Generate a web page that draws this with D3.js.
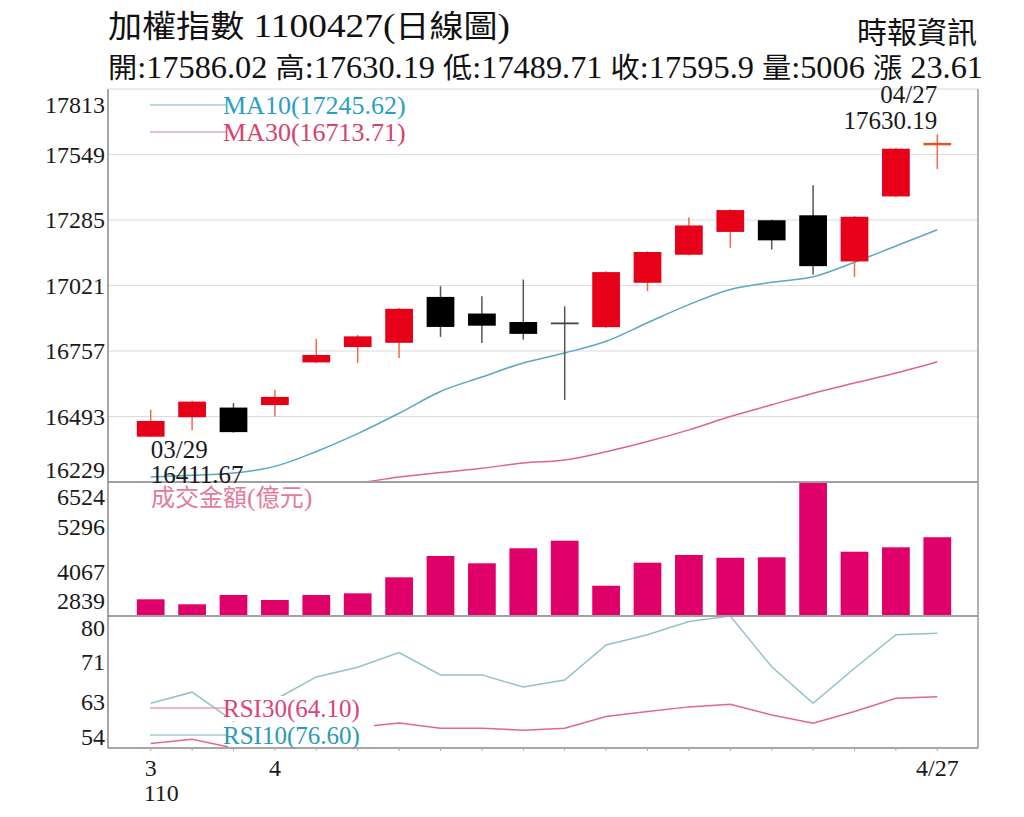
<!DOCTYPE html>
<html>
<head>
<meta charset="utf-8">
<script src="https://cdn.jsdelivr.net/npm/d3@7"></script>
<style>
  body { margin: 0; background: #fff; }
</style>
</head>
<body>
<script>
// trading days 3/29 - 4/27 (民國110年)
var dates = ["3/29", "3/30", "3/31", "4/1", "4/6", "4/7", "4/8", "4/9", "4/12", "4/13",
             "4/14", "4/15", "4/16", "4/19", "4/20", "4/21", "4/22", "4/23", "4/26", "4/27"];
var openP  = [16411.67, 16490, 16529, 16539, 16711, 16773, 16790, 16975, 16908, 16874,
              16872, 16853, 17032, 17145, 17237, 17284, 17304, 17118, 17380, 17586.02];
var highP  = [16520, 16556, 16547, 16601, 16806, 16822, 16930, 17018, 16978, 17045,
              16937, 17078, 17159, 17295, 17328, 17286, 17425, 17301, 17575, 17630.19];
var lowP   = [16411.67, 16439, 16428, 16493, 16709, 16709, 16729, 16814, 16789, 16803,
              16560, 16851, 16998, 17143, 17173, 17166, 17065, 17055, 17377, 17489.71];
var closeP = [16475, 16553, 16430, 16572, 16741, 16816, 16927, 16854, 16859, 16826,
              16868, 17075, 17156, 17263, 17325, 17203, 17099, 17298, 17572.29, 17595.9];
var ma10 = [16249, 16256, 16265, 16292, 16352, 16424, 16506, 16594, 16652, 16709,
            16749, 16796, 16871, 16944, 17005, 17034, 17056, 17115, 17180, 17245.62];
var ma30 = [16120, 16140, 16160, 16180, 16205, 16228, 16249, 16267, 16284, 16306,
            16318, 16351, 16392, 16439, 16493, 16540, 16587, 16628, 16668, 16713.71];
var volume = [3298, 3161, 3417, 3279, 3416, 3463, 3903, 4489, 4288, 4701,
              4910, 3672, 4305, 4517, 4440, 4453, 6524, 4607, 4728, 5006];
var rsi10 = [62.8, 65.0, 59.3, 63.5, 68.0, 69.9, 72.8, 68.4, 68.4, 66.0,
             67.4, 74.3, 76.3, 78.9, 80.0, 70.0, 62.8, 69.7, 76.3, 76.60];
var rsi30 = [54.9, 55.7, 54.0, 55.2, 56.6, 58.1, 58.9, 57.9, 57.9, 57.5,
             57.9, 60.2, 61.2, 62.1, 62.6, 60.5, 58.9, 61.2, 63.8, 64.10];

var priceTicks = [16229, 16493, 16757, 17021, 17285, 17549, 17813];
var volumeTicks = [2839, 4067, 5296, 6524];
var rsiTicks = [54, 63, 71, 80];
var axisDates = ["3/29", "4/1", "4/27"];
var axisLabels = ["3", "4", "4/27"];
var yearLabel = "110";

var titleText = "加權指數 1100427(日線圖)";
var sourceText = "時報資訊";
var quoteText = "開:17586.02 高:17630.19 低:17489.71 收:17595.9 量:5006 漲 23.61";
var volumeTitle = "成交金額(億元)";

var SERIF = '"Liberation Serif", "DejaVu Serif", serif';
var CJK = '"Noto Sans CJK TC", "Noto Sans CJK SC", sans-serif';

var width = 1024, height = 817;
var left = 108, right = 978;
var priceTop = 89, priceBottom = 482, volBottom = 616, rsiBottom = 748;

var svg = d3.select("body").append("svg")
    .attr("width", width)
    .attr("height", height);

// splits a string into CJK / latin runs so digits keep the serif face
function mixedText(sel, str, size, cjkSize) {
    var runs = str.match(/[\u3400-\u9fff\uff00-\uffef]+|[^\u3400-\u9fff\uff00-\uffef]+/g);
    runs.forEach(function(r) {
        var cjk = /[\u3400-\u9fff\uff00-\uffef]/.test(r);
        sel.append("tspan")
            .style("font-family", cjk ? CJK : SERIF)
            .attr("font-size", cjk ? cjkSize : size)
            .text(r);
    });
    return sel;
}

var x = d3.scaleBand().domain(dates).range([130, 958])
    .paddingInner(0.33).paddingOuter(0.165);
var bw = x.bandwidth();
function cx(d) { return x(d) + bw / 2; }

var yPrice = d3.scaleLinear().domain([priceTicks[0], priceTicks[priceTicks.length - 1]])
    .range([priceBottom, priceTop]);
var yPriceClamp = yPrice.copy().clamp(true);
var yVol = d3.scaleLinear().domain([volumeTicks[0], volumeTicks[volumeTicks.length - 1]])
    .range([volBottom, priceBottom]).clamp(true);
var yRsi = d3.scaleLinear().domain([rsiTicks[0], rsiTicks[rsiTicks.length - 1]])
    .range([rsiBottom, volBottom]).clamp(true);

var rows = dates.map(function(d, i) {
    return { date: d, o: openP[i], h: highP[i], l: lowP[i], c: closeP[i],
             ma10: ma10[i], ma30: ma30[i], vol: volume[i], r10: rsi10[i], r30: rsi30[i] };
});

// header
mixedText(svg.append("text").attr("x", 108).attr("y", 37).attr("fill", "#111")
    .attr("textLength", 402).attr("lengthAdjust", "spacingAndGlyphs"), titleText, 34, 31);
mixedText(svg.append("text").attr("x", 977).attr("y", 43).attr("fill", "#111")
    .attr("text-anchor", "end"), sourceText, 30, 30);
mixedText(svg.append("text").attr("x", 108).attr("y", 78).attr("fill", "#111")
    .attr("textLength", 875).attr("lengthAdjust", "spacingAndGlyphs"), quoteText, 31, 28);

// price gridlines
svg.append("g").selectAll("line")
    .data(priceTicks.slice(1, -1))
    .enter().append("line")
    .attr("x1", left).attr("x2", right)
    .attr("y1", function(d) { return yPrice(d); })
    .attr("y2", function(d) { return yPrice(d); })
    .attr("stroke", "#dcdcdc").attr("stroke-width", 1.2);

// moving averages
var maLine = function(key) {
    return d3.line().curve(d3.curveMonotoneX)
        .x(function(d) { return cx(d.date); })
        .y(function(d) { return yPriceClamp(d[key]); });
};
svg.append("path").datum(rows).attr("d", maLine("ma30"))
    .attr("fill", "none").attr("stroke", "#e0648a").attr("stroke-width", 1.5);
svg.append("path").datum(rows).attr("d", maLine("ma10"))
    .attr("fill", "none").attr("stroke", "#5aa8c2").attr("stroke-width", 1.5);

// candles
var candle = svg.append("g").selectAll("g")
    .data(rows).enter().append("g");
candle.append("line")
    .attr("x1", function(d) { return cx(d.date); })
    .attr("x2", function(d) { return cx(d.date); })
    .attr("y1", function(d) { return yPrice(d.h); })
    .attr("y2", function(d) { return yPrice(d.l); })
    .attr("stroke", function(d) { return d.c >= d.o ? "#ef6a4e" : "#555"; })
    .attr("stroke-width", 1.5);
candle.append("rect")
    .attr("x", function(d) { return x(d.date); })
    .attr("width", bw)
    .attr("y", function(d) { return yPrice(Math.max(d.o, d.c)); })
    .attr("height", function(d) { return Math.max(1.8, Math.abs(yPrice(d.o) - yPrice(d.c))); })
    .attr("fill", function(d) {
        if (Math.abs(d.c - d.o) < 15) return d.c >= d.o ? "#e8502a" : "#444";
        return d.c >= d.o ? "#e60018" : "#000";
    });

// volume bars
svg.append("g").selectAll("rect")
    .data(rows).enter().append("rect")
    .attr("x", function(d) { return x(d.date); })
    .attr("width", bw)
    .attr("y", function(d) { return yVol(d.vol); })
    .attr("height", function(d) { return volBottom - yVol(d.vol); })
    .attr("fill", "#e0006a");

// RSI lines
var rsiLine = function(key) {
    return d3.line().x(function(d) { return cx(d.date); })
        .y(function(d) { return yRsi(d[key]); });
};
svg.append("path").datum(rows).attr("d", rsiLine("r30"))
    .attr("fill", "none").attr("stroke", "#e0688c").attr("stroke-width", 1.5);
svg.append("path").datum(rows).attr("d", rsiLine("r10"))
    .attr("fill", "none").attr("stroke", "#94c0ca").attr("stroke-width", 1.5);

// legends
function legend(y, text, lineColor, textColor, size, bg) {
    if (bg) {
        svg.append("rect").attr("x", 228).attr("y", y - 12)
            .attr("width", 146).attr("height", 25).attr("fill", "#fff");
    }
    svg.append("line").attr("x1", 150).attr("x2", 226)
        .attr("y1", y).attr("y2", y)
        .attr("stroke", lineColor).attr("stroke-width", 1.3);
    svg.append("text").attr("x", 223).attr("y", y + 8.5)
        .attr("font-size", size).attr("fill", textColor)
        .style("font-family", SERIF)
        .text(text);
}
legend(105, "MA10(" + d3.format(".2f")(ma10[ma10.length - 1]) + ")", "#a9c9d4", "#2c9ec4", 26, false);
legend(132, "MA30(" + d3.format(".2f")(ma30[ma30.length - 1]) + ")", "#e6aab8", "#d8406e", 26, false);
legend(708, "RSI30(" + d3.format(".2f")(rsi30[rsi30.length - 1]) + ")", "#eaa0b4", "#d9447a", 25, true);
legend(735, "RSI10(" + d3.format(".2f")(rsi10[rsi10.length - 1]) + ")", "#a6c8d0", "#2a9ab8", 25, true);

mixedText(svg.append("text").attr("x", 151).attr("y", 506)
    .attr("fill", "#e47a9c"), volumeTitle, 26, 24);

// frame and panel dividers
svg.append("line").attr("x1", left).attr("x2", right).attr("y1", priceTop).attr("y2", priceTop)
    .attr("stroke", "#d8d8d8").attr("stroke-width", 1);
[priceBottom, volBottom].forEach(function(yy) {
    svg.append("line").attr("x1", left).attr("x2", right).attr("y1", yy).attr("y2", yy)
        .attr("stroke", "#a0a0a0").attr("stroke-width", 2);
});
svg.append("line").attr("x1", left).attr("x2", right).attr("y1", rsiBottom).attr("y2", rsiBottom)
    .attr("stroke", "#888").attr("stroke-width", 1.5);
svg.append("line").attr("x1", left).attr("x2", left).attr("y1", priceTop).attr("y2", rsiBottom)
    .attr("stroke", "#888").attr("stroke-width", 1.5);
svg.append("line").attr("x1", right).attr("x2", right).attr("y1", priceTop).attr("y2", rsiBottom)
    .attr("stroke", "#999").attr("stroke-width", 1.5);

// left axes
function leftAxis(scale, ticks, shiftBottom, shiftTop) {
    var g = svg.append("g").attr("transform", "translate(" + (left - 1) + ",0)")
        .call(d3.axisLeft(scale).tickValues(ticks).tickSize(0).tickPadding(2)
            .tickFormat(d3.format("d")));
    g.select(".domain").remove();
    g.attr("font-size", 24);
    g.selectAll("text").attr("fill", "#1a1a1a")
        .style("font-family", SERIF)
        .attr("y", function(d, i) {
            if (i === 0) return shiftBottom;
            if (i === ticks.length - 1) return shiftTop;
            return 0;
        });
}
leftAxis(yPrice, priceTicks, -12, 16);
leftAxis(yVol, volumeTicks, -15, 15);
leftAxis(yRsi, rsiTicks, -11, 12);

// bottom axis
var xAxis = svg.append("g").attr("transform", "translate(0," + rsiBottom + ")")
    .call(d3.axisBottom(x).tickSize(3).tickPadding(8)
        .tickFormat(function(d) {
            var k = axisDates.indexOf(d);
            return k >= 0 ? axisLabels[k] : "";
        }));
xAxis.select(".domain").remove();
xAxis.attr("font-size", 24);
xAxis.selectAll("line").attr("stroke", "#aaa");
xAxis.selectAll("text").attr("fill", "#1a1a1a").style("font-family", SERIF);
svg.append("text").attr("x", cx(dates[0]) - 7).attr("y", 801)
    .attr("font-size", 24).attr("fill", "#1a1a1a").style("font-family", SERIF)
    .text(yearLabel);

// low / high annotations
var first = rows[0], last = rows[rows.length - 1];
function note(xx, yy, anchor, str) {
    svg.append("text").attr("x", xx).attr("y", yy)
        .attr("font-size", 25).attr("fill", "#1a1a1a").attr("text-anchor", anchor)
        .style("font-family", SERIF)
        .text(str);
}
note(cx(first.date), yPrice(first.l) + 21, "start", "03/29");
note(cx(first.date), yPrice(first.l) + 46, "start", d3.format(".2f")(first.l));
note(cx(last.date), yPrice(last.h) - 31, "end", "04/27");
note(cx(last.date), yPrice(last.h) - 5, "end", d3.format(".2f")(last.h));
</script>
</body>
</html>
